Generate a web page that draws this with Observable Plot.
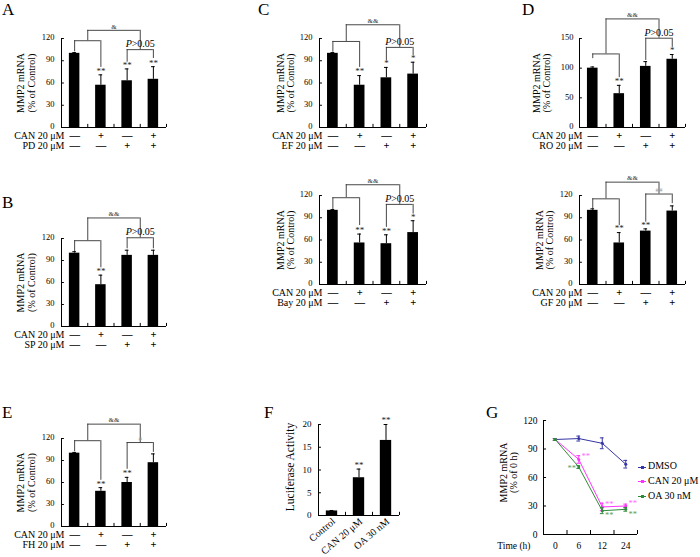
<!DOCTYPE html>
<html><head><meta charset="utf-8">
<script src="https://cdn.jsdelivr.net/npm/d3@7"></script>
<script src="https://cdn.jsdelivr.net/npm/@observablehq/plot@0.6"></script>
<style>
html,body{margin:0;padding:0;background:#fff;}
#fig{position:relative;width:700px;height:557px;overflow:hidden;background:#fff;font-family:"Liberation Serif","Times New Roman",serif;color:#000;}
#fig > svg{position:absolute;}
.letter{position:absolute;font-size:17px;line-height:17px;}
.legend{position:absolute;font-size:10px;line-height:14.7px;white-space:nowrap;}
.sw{display:inline-block;position:relative;width:8px;height:1px;vertical-align:middle;margin-right:2px;}
.sw i{position:absolute;left:2.5px;top:-1px;width:3px;height:3px;}
</style></head><body><div id="fig"></div>
<script>
const FONT = "Liberation Serif";
// shared row labels / signs
const canRowLabel = "CAN 20 μM";
const canSigns = ["−", "+", "−", "+"];
const inhSigns = ["−", "−", "+", "+"];
const ticks120 = [0, 30, 60, 90, 120];
const ticks150 = [0, 50, 100, 150];
const yLabelControl = "MMP2 mRNA\n(% of Control)";

// Panel A
const inhA = "PD 20 μM";
const meanA = [100, 57, 63, 65];
const errA = [1, 14, 16, 17];
const starsA = ["", "**", "**", "**"];
const bracketsA = [
  {from: 0, to: 1, y: 117, l: 102, r: 81, label: ""},
  {from: 2, to: 3, y: 105, l: 88, r: 93, label: "P>0.05"},
  {from: 0.5, to: 2.5, y: 131, l: 117, r: 105, label: "&"}
];
// Panel B
const inhB = "SP 20 μM";
const meanB = [100, 57, 97, 97];
const errB = [2, 13, 7, 7];
const starsB = ["", "**", "", ""];
const bracketsB = [
  {from: 0, to: 1, y: 117, l: 102, r: 80, label: ""},
  {from: 2, to: 3, y: 121, l: 106, r: 106, label: "P>0.05"},
  {from: 0.5, to: 2.5, y: 148, l: 117, r: 121, label: "&&"}
];
// Panel C (top)
const inhC1 = "EF 20 μM";
const meanC1 = [100, 57, 67, 72];
const errC1 = [1, 13, 14, 16];
const starsC1 = ["", "**", "*", "*"];
const bracketsC1 = [
  {from: 0, to: 1, y: 116, l: 101.5, r: 81, label: ""},
  {from: 2, to: 3, y: 108, l: 90, r: 97, label: "P>0.05"},
  {from: 0.5, to: 2.5, y: 138.5, l: 116, r: 108, label: "&&"}
];
// Panel C (bottom)
const inhC2 = "Bay 20 μM";
const meanC2 = [100, 56, 55, 70];
const errC2 = [1, 12, 12, 16];
const starsC2 = ["", "**", "**", "*"];
const bracketsC2 = [
  {from: 0, to: 1, y: 117, l: 101, r: 79.5, label: ""},
  {from: 2, to: 3, y: 108, l: 77, r: 95, label: "P>0.05"},
  {from: 0.5, to: 2.5, y: 134.5, l: 117, r: 108, label: "&&"}
];
// Panel D (top)
const inhD1 = "RO 20 μM";
const meanD1 = [100, 57, 103, 115];
const errD1 = [2, 14, 8, 8];
const starsD1 = ["", "**", "", "*"];
const bracketsD1 = [
  {from: 0, to: 1, y: 124, l: 116, r: 84, label: ""},
  {from: 2, to: 3, y: 150.5, l: 113, r: 135, label: "P>0.05"},
  {from: 0.5, to: 2.5, y: 183, l: 124, r: 150.5, label: "&&"}
];
// Panel D (bottom)
const inhD2 = "GF 20 μM";
const meanD2 = [100, 56, 72, 99];
const errD2 = [2, 14, 3, 7];
const starsD2 = ["", "**", "**", ""];
const bracketsD2 = [
  {from: 0, to: 1, y: 115.5, l: 102, r: 79.5, label: ""},
  {from: 2, to: 3, y: 122, l: 84, r: 109, label: "##"},
  {from: 0.5, to: 2.5, y: 138, l: 115.5, r: 122, label: "&&"}
];
// Panel E
const inhE = "FH 20 μM";
const meanE = [100, 48, 60, 87];
const errE = [1, 5, 7, 12];
const starsE = ["", "**", "**", ""];
const bracketsE = [
  {from: 0, to: 1, y: 117, l: 102, r: 63, label: ""},
  {from: 2, to: 3, y: 114.5, l: 78, r: 101, label: "#"},
  {from: 0.5, to: 2.5, y: 139.6, l: 117, r: 114.5, label: "&&"}
];
// Panel F
const catsF = ["Control", "CAN 20 μM", "OA 30 nM"];
const meanF = [1, 8.3, 16.5];
const errF = [0.1, 1.9, 3.5];
const starsF = ["", "**", "**"];
const ticksF = [0, 5, 10, 15, 20];
const yLabelF = "Luciferase Activity";
// Panel G
const timesG = ["0", "6", "12", "24"];
const seriesG = ["DMSO", "CAN 20 μM", "OA 30 nM"];
const colorsG = ["#3535a5", "#ff33ff", "#2e8b3a"];
const starColorsG = ["#3535a5", "#ff66ff", "#5aa05a"];
const dmsoG = [100, 101, 96, 74];
const dmsoErrG = [1, 2.6, 5.7, 4];
const canG = [100, 79, 29, 30];
const canErrG = [1, 4, 4, 2];
const oaG = [100, 71, 25, 26.5];
const oaErrG = [1, 1.5, 3, 2];
const canStarsG = ["", "**", "**", "**"];
const oaStarsG = ["", "**", "**", "**"];
const yLabelG = "MMP2 mRNA\n(% of 0 h)";
const xLabelG = "Time (h)";

const fig = document.getElementById("fig");
const baseStyle = {background: "transparent", overflow: "visible", fontFamily: FONT, color: "#000"};
// display glyph for the sign rows: a wide dash for "−"
const signGlyph = d => d === "−" ? "—" : d;

function place(svg, left, top) {
  svg.style.left = left + "px";
  svg.style.top = top + "px";
  d3.select(svg).selectAll("text").each(function() {
    if (this.textContent === "P>0.05") {
      const t = d3.select(this);
      t.text("");
      t.append("tspan").attr("font-style", "italic").text("P");
      t.append("tspan").text(">0.05");
    }
  });
  fig.appendChild(svg);
}

function barPanel(p) {
  const n = p.mean.length;
  const rows = p.mean.map((v, i) => ({i, v, e: p.err[i], s: p.stars[i]}));
  const yMax = p.ticks[p.ticks.length - 1];
  const c = d => d.i + 0.5;
  const br = p.brackets;
  const bx1 = d => d.from + 0.5, bx2 = d => d.to + 0.5, bmid = d => (d.from + d.to) / 2 + 0.5;
  const ls = {stroke: "#333", strokeWidth: 0.9};
  const svg = Plot.plot({
    width: p.width, height: p.height,
    marginLeft: p.mL, marginRight: p.mR, marginTop: p.mT, marginBottom: p.mB,
    x: {domain: [0, n], axis: null},
    y: {domain: [0, yMax], axis: null},
    style: baseStyle,
    marks: [
      Plot.rect(rows, {x1: d => c(d) - 0.2, x2: d => c(d) + 0.2, y1: 0, y2: "v", fill: "#000"}),
      Plot.ruleX(rows, {x: c, y1: "v", y2: d => d.v + d.e, stroke: "#000", strokeWidth: 1}),
      Plot.ruleY(rows, {y: d => d.v + d.e, x1: d => c(d) - 0.07, x2: d => c(d) + 0.07, stroke: "#000", strokeWidth: 1}),
      Plot.text(rows, {x: c, y: d => d.v + d.e, text: "s", dy: -4, fontSize: 9, fill: "#222"}),
      Plot.ruleX([0], {stroke: "#000"}),
      Plot.ruleY([0], {stroke: "#000"}),
      Plot.ruleY(p.ticks, {x1: 0, x2: 0.11, stroke: "#000"}),
      Plot.ruleX(d3.range(1, n + 1), {y1: 0, y2: yMax * 0.035, stroke: "#000"}),
      Plot.axisY({ticks: p.ticks, tickSize: 0, tickPadding: p.pad, fontSize: 8.5, dy: -1, label: null}),
      Plot.ruleY(br, {y: "y", x1: bx1, x2: bx2, ...ls}),
      Plot.ruleX(br, {x: bx1, y1: "l", y2: "y", ...ls}),
      Plot.ruleX(br, {x: bx2, y1: "r", y2: "y", ...ls}),
      Plot.text(br, {filter: d => d.label.startsWith("&"), x: bmid, y: "y", text: "label", dy: -4, fontSize: 7, fill: "#333"}),
      Plot.text(br, {filter: d => d.label.startsWith("P"), x: bmid, y: "y", text: "label", dy: -5.5, fontSize: 10}),
      Plot.text(br, {filter: d => d.label.startsWith("#"), x: bmid, y: "y", text: "label", dy: -4, fontSize: 7, fill: "#999"}),
      Plot.text([yLabelControl], {text: d => d, frameAnchor: "left", textAnchor: "middle", dx: p.ylx, rotate: -90, fontSize: 10, lineHeight: 1.05}),
      Plot.text([canRowLabel], {text: d => d, frameAnchor: "bottom-left", dx: 3, dy: 11.5, textAnchor: "end", fontSize: 10}),
      Plot.text([p.inh], {text: d => d, frameAnchor: "bottom-left", dx: 3, dy: 21.5, textAnchor: "end", fontSize: 10}),
      Plot.text(canSigns, {x: (d, i) => i + 0.5, frameAnchor: "bottom", dy: 11.5, text: signGlyph, fontSize: 10.5, fontWeight: "bold"}),
      Plot.text(inhSigns, {x: (d, i) => i + 0.5, frameAnchor: "bottom", dy: 21.5, text: signGlyph, fontSize: 10.5, fontWeight: "bold"})
    ]
  });
  place(svg, p.left, p.top);
}

barPanel({left: 0, top: 0, width: 230, height: 180, mL: 61, mR: 64, mT: 38, mB: 53, pad: 7, ylx: -35.5,
  mean: meanA, err: errA, stars: starsA, brackets: bracketsA, ticks: ticks120, inh: inhA});
barPanel({left: 0, top: 180, width: 230, height: 200, mL: 61, mR: 64, mT: 58, mB: 54, pad: 7, ylx: -35.5,
  mean: meanB, err: errB, stars: starsB, brackets: bracketsB, ticks: ticks120, inh: inhB});
barPanel({left: 230, top: 0, width: 230, height: 180, mL: 89, mR: 34, mT: 38, mB: 53, pad: 7, ylx: -34,
  mean: meanC1, err: errC1, stars: starsC1, brackets: bracketsC1, ticks: ticks120, inh: inhC1});
barPanel({left: 230, top: 160, width: 230, height: 200, mL: 89, mR: 34, mT: 35, mB: 76, pad: 7, ylx: -34,
  mean: meanC2, err: errC2, stars: starsC2, brackets: bracketsC2, ticks: ticks120, inh: inhC2});
barPanel({left: 460, top: 0, width: 240, height: 180, mL: 119, mR: 15, mT: 38, mB: 53, pad: 6, ylx: -38,
  mean: meanD1, err: errD1, stars: starsD1, brackets: bracketsD1, ticks: ticks150, inh: inhD1});
barPanel({left: 460, top: 160, width: 240, height: 200, mL: 119, mR: 15, mT: 35, mB: 76, pad: 7, ylx: -35,
  mean: meanD2, err: errD2, stars: starsD2, brackets: bracketsD2, ticks: ticks120, inh: inhD2});
barPanel({left: 0, top: 380, width: 230, height: 177, mL: 61, mR: 64, mT: 58, mB: 31, pad: 7, ylx: -35.5,
  mean: meanE, err: errE, stars: starsE, brackets: bracketsE, ticks: ticks120, inh: inhE});

// Panel F
(function() {
  const rows = meanF.map((v, i) => ({i, v, e: errF[i], s: starsF[i], c: catsF[i]}));
  const c = d => d.i + 0.5;
  const svg = Plot.plot({
    width: 230, height: 177, marginLeft: 88, marginRight: 61, marginTop: 44, marginBottom: 42,
    x: {domain: [0, 3], axis: null},
    y: {domain: [0, 20], axis: null},
    style: baseStyle,
    marks: [
      Plot.rect(rows, {x1: d => c(d) - 0.21, x2: d => c(d) + 0.21, y1: 0, y2: "v", fill: "#000"}),
      Plot.ruleX(rows, {x: c, y1: "v", y2: d => d.v + d.e, stroke: "#000"}),
      Plot.ruleY(rows, {y: d => d.v + d.e, x1: d => c(d) - 0.07, x2: d => c(d) + 0.07, stroke: "#000"}),
      Plot.text(rows, {x: c, y: d => d.v + d.e, text: "s", dy: -4, fontSize: 9, fill: "#222"}),
      Plot.ruleX([0], {stroke: "#000"}),
      Plot.ruleY([0], {stroke: "#000"}),
      Plot.ruleY(ticksF, {x1: 0, x2: 0.11, stroke: "#000"}),
      Plot.ruleX([1, 2, 3], {y1: 0, y2: 0.7, stroke: "#000"}),
      Plot.axisY({ticks: ticksF, tickSize: 0, tickPadding: 7, fontSize: 9, label: null}),
      Plot.text(rows, {x: c, frameAnchor: "bottom", text: "c", rotate: -40, textAnchor: "end", dx: 4, dy: 7, fontSize: 10}),
      Plot.text([yLabelF], {text: d => d, frameAnchor: "left", textAnchor: "middle", dx: -28, dy: -3, rotate: -90, fontSize: 11.5})
    ]
  });
  place(svg, 230, 380);
})();

// Panel G
(function() {
  const mk = (vals, errs, stars) => vals.map((v, i) => ({i, v, e: errs[i], s: stars ? stars[i] : ""}));
  const data = [mk(dmsoG, dmsoErrG), mk(canG, canErrG, canStarsG), mk(oaG, oaErrG, oaStarsG)];
  const c = d => d.i + 0.5;
  const marks = [
    Plot.ruleX([0], {stroke: "#000"}),
    Plot.ruleY([0], {stroke: "#000"}),
    Plot.ruleY(ticks120, {x1: 0, x2: 0.13, stroke: "#000"}),
    Plot.ruleX([1, 2, 3, 4], {y1: 0, y2: 4.2, stroke: "#000"}),
    Plot.axisY({ticks: ticks120, tickSize: 0, tickPadding: 6, fontSize: 9.5, label: null}),
    Plot.text(timesG, {x: (d, i) => i + 0.5, frameAnchor: "bottom", dy: 14, text: d => d, fontSize: 9.5}),
    Plot.text([xLabelG], {text: d => d, frameAnchor: "bottom-left", dx: -13, dy: 14, textAnchor: "end", fontSize: 9.5}),
    Plot.text([yLabelG], {text: d => d, frameAnchor: "left", textAnchor: "middle", dx: -35, dy: -5, rotate: -90, fontSize: 10, lineHeight: 1.05})
  ];
  data.forEach((rows, k) => {
    marks.push(
      Plot.line(rows, {x: c, y: "v", stroke: colorsG[k], strokeWidth: 1}),
      Plot.ruleX(rows, {x: c, y1: d => d.v - d.e, y2: d => d.v + d.e, stroke: colorsG[k], strokeWidth: 1}),
      Plot.ruleY(rows, {y: d => d.v + d.e, x1: d => c(d) - 0.08, x2: d => c(d) + 0.08, stroke: colorsG[k], strokeWidth: 1}),
      Plot.ruleY(rows, {y: d => d.v - d.e, x1: d => c(d) - 0.08, x2: d => c(d) + 0.08, stroke: colorsG[k], strokeWidth: 1}),
      Plot.dot(rows, {x: c, y: "v", r: 1.5, fill: colorsG[k], stroke: "none"})
    );
  });
  marks.push(
    Plot.text(data[1], {x: c, y: "v", text: "s", dx: 7, dy: -3, fontSize: 8.5, fill: starColorsG[1]}),
    Plot.text(data[2], {filter: d => d.i === 1, x: c, y: "v", text: "s", dx: -7, dy: 1, fontSize: 8.5, fill: starColorsG[2]}),
    Plot.text(data[2], {filter: d => d.i > 1, x: c, y: "v", text: "s", dx: 7, dy: 4.5, fontSize: 8.5, fill: starColorsG[2]})
  );
  const svg = Plot.plot({
    width: 240, height: 177, marginLeft: 83, marginRight: 63, marginTop: 40, marginBottom: 23,
    x: {domain: [0, 4], axis: null},
    y: {domain: [0, 120], axis: null},
    style: baseStyle,
    marks
  });
  place(svg, 460, 380);

  const lg = document.createElement("div");
  lg.className = "legend";
  lg.style.left = "638px";
  lg.style.top = "459.3px";
  seriesG.forEach((name, k) => {
    const row = document.createElement("div");
    const sw = document.createElement("span");
    sw.className = "sw";
    sw.style.background = colorsG[k];
    const dot = document.createElement("i");
    dot.style.background = colorsG[k];
    sw.appendChild(dot);
    row.appendChild(sw);
    row.appendChild(document.createTextNode(name));
    lg.appendChild(row);
  });
  fig.appendChild(lg);
})();

// panel letters
const letters = [["A", 2, 0.8], ["B", 2, 194.3], ["C", 258, 0.8], ["D", 522, 0.8], ["E", 2, 403.5], ["F", 264, 403.8], ["G", 486, 403.8]];
letters.forEach(([t, x, y]) => {
  const d = document.createElement("div");
  d.className = "letter";
  d.style.left = x + "px";
  d.style.top = y + "px";
  d.textContent = t;
  fig.appendChild(d);
});
</script></body></html>
